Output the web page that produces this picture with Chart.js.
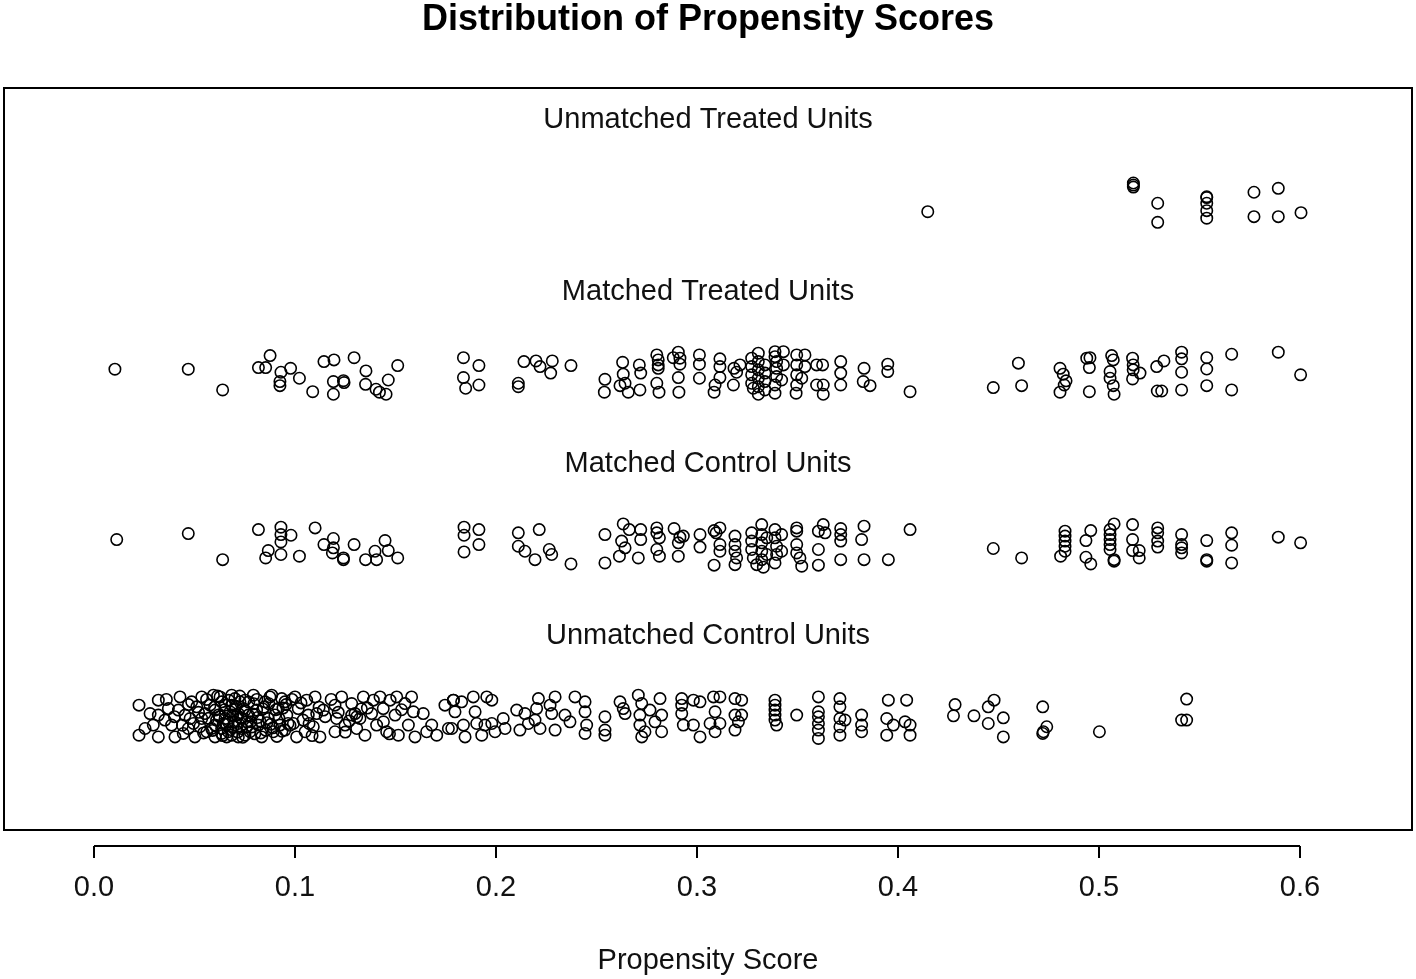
<!DOCTYPE html>
<html><head><meta charset="utf-8">
<script src="https://cdn.jsdelivr.net/npm/chart.js@4.4.0/dist/chart.umd.min.js"></script>
<style>html,body{margin:0;padding:0;background:#fff;} #wrap{width:1416px;height:979px;}</style>
</head><body><div id="wrap"><canvas id="c" width="1416" height="979"></canvas></div>
<script>
const chartTitle = "Distribution of Propensity Scores";
const xAxisTitle = "Propensity Score";
const groupLabels = ["Unmatched Treated Units", "Matched Treated Units", "Matched Control Units", "Unmatched Control Units"];
const groupLabelY = [2.5, 1.5, 0.5, -0.5];
const xTickValues = [0.0, 0.1, 0.2, 0.3, 0.4, 0.5, 0.6];

// Unmatched treated (around y = 2)
const utX = [0.4148,0.5171,0.5171,0.5171,0.5292,0.5292,0.5536,0.5536,0.5536,0.5536,0.5536,0.5771,0.5771,0.5892,0.5892,0.6005];
const utY = [1.940,2.107,2.095,2.083,1.989,1.878,2.027,2.022,1.989,1.946,1.902,2.053,1.911,2.076,1.911,1.934];

// Matched treated (around y = 1)
const mtX = [0.0104,0.0469,0.0640,0.0876,0.0818,0.0854,0.0930,0.0978,0.0925,0.0925,0.1022,0.1088,0.1144,0.1194,0.1294,0.1191,0.1241,0.1244,0.1191,0.1353,0.1351,0.1403,0.1420,0.1453,0.1464,0.1511,0.1838,0.1915,0.1838,0.1849,0.1915,
0.2111,0.2111,0.2139,0.2199,0.2219,0.2280,0.2272,0.2373,0.2542,0.2539,0.2630,0.2633,0.2617,0.2642,0.2658,0.2713,0.2720,0.2716,0.2800,0.2807,0.2807,0.2807,0.2800,0.2811,0.2882,0.2907,0.2915,0.2915,0.2907,0.2910,0.3012,0.3012,0.3012,0.3114,0.3114,0.3090,0.3085,0.3114,0.3184,0.3197,0.3181,0.3214,
0.3272,0.3272,0.3272,0.3272,0.3280,0.3305,0.3305,0.3305,0.3305,0.3305,0.3305,0.3338,0.3338,0.3338,0.3338,
0.3388,0.3388,0.3396,0.3396,0.3396,0.3388,0.3388,0.3430,0.3430,0.3421,
0.3496,0.3496,0.3496,0.3496,0.3493,0.3537,0.3537,0.3521,
0.3595,0.3625,0.3595,0.3628,0.3628,0.3715,0.3715,0.3715,0.3831,0.3827,0.3861,0.3949,0.3949,0.4060,
0.4474,0.4599,0.4615,0.4806,0.4822,0.4836,0.4827,0.4806,0.4939,0.4955,0.4952,0.4952,0.5063,0.5071,0.5055,0.5055,0.5071,0.5075,0.5167,0.5170,0.5170,0.5204,0.5167,0.5287,0.5323,0.5290,0.5312,0.5411,0.5411,0.5411,0.5411,0.5536,0.5536,0.5536,0.5660,0.5660,0.5892,0.6003];
const mtY = [1.023,1.023,0.902,1.102,1.032,1.032,1.005,1.028,0.951,0.927,0.970,0.892,1.067,1.077,1.090,0.951,0.956,0.945,0.877,1.013,0.935,0.906,0.889,0.877,0.960,1.044,1.090,1.044,0.974,0.912,0.931,
0.941,0.921,1.067,1.071,1.038,1.071,1.000,1.044,0.964,0.889,1.063,0.994,0.927,0.941,0.889,1.048,1.000,0.902,1.106,1.077,1.048,1.028,0.941,0.889,1.090,1.122,1.087,1.052,0.974,0.889,1.106,1.052,0.970,1.083,1.038,0.931,0.889,0.974,1.028,1.005,0.931,1.048,
1.087,1.038,0.990,0.941,0.912,1.116,1.067,1.019,0.970,0.921,0.877,1.048,1.000,0.951,0.902,
1.125,1.096,1.067,1.028,0.980,0.931,0.883,1.125,1.048,0.960,
1.106,1.048,0.990,0.931,0.883,1.106,1.038,0.970,
1.048,1.048,0.931,0.931,0.877,1.067,1.000,0.931,1.028,0.951,0.927,1.052,1.009,0.892,
0.916,1.058,0.927,1.028,0.994,0.955,0.931,0.889,1.087,1.090,1.032,0.892,1.102,1.077,1.009,0.970,0.927,0.877,1.087,1.048,1.019,1.000,0.966,1.038,1.071,0.896,0.896,1.122,1.083,1.005,0.902,1.090,1.024,0.927,1.110,0.902,1.122,0.990];

// Matched control (around y = 0)
const mcX = [0.0113,0.0469,0.0640,0.0818,0.0867,0.0854,0.0930,0.0930,0.0930,0.0980,0.0930,0.1022,0.1100,0.1144,0.1191,0.1191,0.1186,0.1241,0.1241,0.1294,0.1351,0.1398,0.1406,0.1448,0.1464,0.1511,0.1841,0.1841,0.1841,0.1915,0.1915,
0.2111,0.2111,0.2215,0.2144,0.2194,0.2265,0.2277,0.2373,0.2542,0.2542,0.2633,0.2663,0.2625,0.2642,0.2614,0.2720,0.2720,0.2708,0.2800,0.2800,0.2813,0.2800,0.2813,0.2886,0.2915,0.2932,0.2907,0.2907,0.3015,0.3015,0.3085,0.3114,0.3095,0.3114,0.3114,0.3085,0.3189,0.3189,0.3189,0.3197,0.3189,
0.3272,0.3272,0.3272,0.3280,0.3297,0.3322,0.3322,0.3322,0.3322,0.3322,0.3330,0.3347,0.3347,
0.3388,0.3388,0.3396,0.3396,0.3388,0.3421,0.3421,
0.3496,0.3496,0.3496,0.3496,0.3512,0.3521,
0.3604,0.3628,0.3637,0.3604,0.3604,0.3715,0.3715,0.3715,0.3715,0.3831,0.3819,0.3831,0.3952,0.4060,
0.4474,0.4615,0.4831,0.4831,0.4831,0.4831,0.4831,0.4809,0.4959,0.4935,0.4935,0.4959,0.5075,0.5055,0.5055,0.5055,0.5055,0.5055,0.5075,0.5075,0.5167,0.5167,0.5167,0.5200,0.5200,0.5292,0.5292,0.5292,0.5292,0.5411,0.5411,0.5411,0.5411,0.5536,0.5536,0.5536,0.5660,0.5660,0.5660,0.5892,0.6003];
const mcY = [0.031,0.066,-0.086,0.089,-0.033,-0.076,0.103,0.060,0.017,0.056,-0.056,-0.066,0.099,0.002,0.037,-0.017,-0.047,-0.076,-0.086,0.002,-0.086,-0.037,-0.086,0.025,-0.033,-0.076,0.103,0.056,-0.041,0.089,0.002,
0.070,-0.008,0.089,-0.037,-0.086,-0.027,-0.056,-0.111,0.060,-0.105,0.122,0.089,0.022,-0.017,-0.066,0.089,0.031,-0.076,0.099,0.070,0.041,-0.027,-0.066,0.095,0.045,0.051,0.012,-0.066,0.060,-0.013,0.083,0.099,0.070,0.002,-0.037,-0.118,0.051,0.002,-0.037,-0.076,-0.115,
0.070,0.022,-0.027,-0.076,-0.115,0.118,0.060,0.012,-0.037,-0.086,-0.130,0.041,-0.056,
0.089,0.041,-0.008,-0.056,-0.105,0.060,-0.037,
0.099,0.080,0.002,-0.047,-0.076,-0.124,
0.080,0.118,0.070,-0.027,-0.118,0.095,0.060,0.022,-0.086,0.109,0.031,-0.086,-0.086,0.089,
-0.021,-0.076,0.080,0.051,0.022,-0.008,-0.037,-0.066,0.083,0.025,-0.072,-0.111,0.122,0.089,0.060,0.031,0.002,-0.027,-0.086,-0.095,0.118,0.031,-0.033,-0.033,-0.076,0.099,0.070,0.022,-0.013,0.060,0.002,-0.017,-0.047,0.025,-0.086,-0.095,0.070,-0.002,-0.105,0.045,0.012];

// Unmatched control (around y = -1)
const ucX = [0.0224,0.0224,0.0320,0.0320,0.0295,0.0320,0.0370,0.0386,0.0403,0.0428,0.0453,0.0469,0.0486,0.0502,0.0536,0.0536,0.0561,0.0594,0.0602,0.0602,0.0602,0.0635,0.0652,0.0668,0.0685,0.0701,0.0718,0.0718,0.0751,0.0768,0.0776,0.0793,0.0809,0.0818,0.0834,0.0851,0.0867,0.0884,0.0892,0.0917,0.0925,0.0934,
0.0619,0.0635,0.0652,0.0668,0.0685,0.0701,0.0710,0.0735,0.0743,0.0760,0.0726,0.0677,0.0660,0.0627,0.0610,0.0577,0.0585,0.0552,0.0527,0.0511,0.0478,0.0444,0.0420,0.0353,0.0279,0.0254,
0.0643,0.0693,0.0718,0.0751,0.0635,0.0685,0.0735,
0.0470,0.0495,0.0520,0.0545,0.0560,0.0570,0.0590,0.0600,0.0615,0.0625,0.0640,0.0650,0.0660,0.0670,0.0680,0.0690,0.0700,0.0705,0.0715,0.0725,0.0730,0.0740,0.0750,0.0760,0.0770,0.0780,0.0790,0.0800,0.0810,0.0825,0.0840,0.0855,0.0870,0.0880,0.0900,0.0910,0.0940,0.0965,0.1030,0.1070,0.1150,0.1180,0.1250,0.1360,0.1440,0.1470,0.1530,0.0360,0.0400,0.0440,
0.0785,0.0795,0.0815,0.0830,0.0845,0.0860,0.0875,0.0890,0.0905,0.0920,0.0935,0.0955,0.0975,0.0985,0.1040,0.1085,0.1120,0.1215,0.1270,0.1330,
0.0950,0.0959,0.0950,0.1000,0.1016,0.0992,0.1008,0.1058,0.1066,0.1050,0.1100,0.1108,0.1091,0.1124,0.1141,0.1199,0.1232,0.1207,0.1199,0.1249,0.1282,0.1299,0.1307,0.1340,0.1348,0.1323,0.1282,0.1307,0.1390,0.1381,0.1406,0.1423,0.1439,0.1456,0.1473,0.1498,0.1514,0.1506,0.1547,0.1564,0.1580,0.1589,0.1597,0.1638,0.1655,0.1680,0.1705,0.1746,0.1763,0.1788,
0.1788,0.1796,0.1780,0.1829,0.1838,0.1846,0.1887,0.1896,0.1904,0.1929,0.1954,0.1979,0.1945,0.1979,0.1995,0.2036,0.2045,0.2103,0.2119,0.2144,0.2161,0.2194,0.2211,0.2202,0.2219,0.2269,0.2294,0.2277,0.2294,0.2343,0.2368,0.2393,0.2443,0.2443,0.2451,0.2443,0.2542,0.2542,0.2542,0.2617,0.2633,0.2642,0.2708,0.2725,0.2716,0.2716,0.2741,0.2725,0.2766,0.2791,0.2816,0.2824,0.2824,
0.2924,0.2924,0.2924,0.2982,0.3015,0.2932,0.2982,0.3015,0.3082,0.3114,0.3090,0.3065,0.3090,0.3114,0.3189,0.3222,0.3189,0.3206,0.3189,0.3222,0.3388,0.3388,0.3388,0.3388,0.3388,0.3396,0.3496,0.3604,0.3604,0.3604,0.3604,0.3604,0.3604,0.3711,0.3711,0.3711,0.3736,0.3711,0.3711,0.3819,0.3819,0.3819,0.3952,0.4043,0.3944,0.3977,0.3944,0.4035,0.4060,0.4060,
0.4284,0.4276,0.4378,0.4449,0.4478,0.4449,0.4524,0.4524,0.4720,0.4723,0.4740,0.4720,0.5002,0.5436,0.5411,0.5436];
const ucY = [-0.933,-1.108,-0.904,-0.991,-1.049,-1.118,-0.953,-1.049,-1.118,-0.885,-0.991,-1.069,-0.914,-1.118,-0.885,-1.011,-1.088,-0.875,-0.962,-1.049,-1.118,-0.914,-1.011,-1.088,-0.875,-0.953,-1.040,-1.118,-0.904,-0.991,-1.088,-0.875,-0.962,-1.049,-1.118,-0.914,-1.011,-0.875,-1.088,-0.953,-1.049,-0.895,
-0.991,-1.069,-0.933,-1.030,-1.108,-0.895,-0.991,-1.069,-0.953,-1.030,-0.914,-0.972,-1.118,-0.885,-1.020,-0.933,-1.069,-0.982,-1.059,-0.943,-1.011,-1.098,-0.962,-1.020,-0.982,-1.069,
-1.040,-1.059,-0.982,-1.108,-1.098,-0.933,-1.011,
-0.930,-1.040,-0.975,-1.095,-0.900,-1.010,-1.080,-0.945,-0.880,-1.000,-1.110,-0.960,-1.045,-0.905,-1.075,-0.990,-1.030,-0.940,-1.090,-0.880,-1.005,-1.120,-0.965,-1.060,-0.915,-1.030,-0.985,-1.100,-0.900,-1.025,-0.955,-1.080,-0.925,-1.045,-0.990,-1.115,-0.950,-1.040,-0.920,-1.040,-1.000,-0.900,-1.090,-0.950,-1.030,-1.100,-0.960,-0.900,-1.000,-1.050,
-1.060,-0.925,-1.005,-1.095,-0.945,-1.035,-0.885,-1.065,-0.960,-1.010,-1.085,-0.930,-1.050,-0.900,-1.020,-1.110,-0.945,-0.975,-1.025,-0.955,
-0.914,-0.991,-1.078,-0.885,-0.953,-1.040,-1.118,-0.904,-0.991,-1.088,-0.885,-0.982,-1.059,-1.118,-0.962,-0.933,-0.885,-1.011,-1.088,-1.049,-0.924,-0.982,-1.069,-0.885,-1.108,-1.011,-0.991,-1.001,-0.904,-0.982,-1.049,-0.885,-0.953,-1.088,-0.904,-0.991,-1.108,-0.885,-0.924,-1.049,-0.885,-0.972,-1.118,-0.982,-1.088,-1.049,-1.108,-0.933,-1.069,-0.904,
-0.904,-0.972,-1.069,-0.914,-1.049,-1.118,-0.885,-0.972,-1.040,-1.108,-0.885,-0.904,-1.049,-1.040,-1.088,-1.011,-1.069,-0.962,-1.078,-0.982,-1.040,-1.020,-0.895,-0.953,-1.069,-0.933,-0.885,-0.982,-1.078,-0.991,-1.030,-0.885,-0.914,-0.972,-1.049,-1.098,-1.001,-1.078,-1.108,-0.914,-0.953,-0.982,-0.875,-0.924,-0.991,-1.049,-1.088,-1.118,-0.962,-1.030,-0.895,-1.088,-0.991,
-0.895,-0.933,-0.982,-0.904,-0.914,-1.049,-1.049,-1.118,-0.885,-0.885,-0.972,-1.040,-1.088,-1.040,-0.895,-0.904,-0.991,-1.030,-1.078,-0.991,-0.904,-0.933,-0.962,-0.991,-1.020,-1.049,-0.991,-0.885,-0.972,-1.001,-1.040,-1.078,-1.127,-0.895,-0.943,-1.011,-1.020,-1.059,-1.108,-0.991,-1.049,-1.088,-0.904,-0.904,-1.011,-1.049,-1.108,-1.030,-1.049,-1.108,
-0.930,-0.995,-0.995,-0.943,-0.904,-1.040,-1.007,-1.118,-0.943,-1.088,-1.059,-1.098,-1.088,-0.898,-1.020,-1.020];

const FONT = '"Liberation Sans", Arial, sans-serif';
const pts = (xs, ys) => xs.map((x, i) => ({ x: x, y: ys[i] }));
const ds = (label, xs, ys) => ({
  label: label, data: pts(xs, ys),
  pointStyle: 'circle', pointRadius: 5.7, pointBorderWidth: 1.6,
  pointBorderColor: '#000', pointBackgroundColor: 'rgba(0,0,0,0)',
  showLine: false
});

const rPlot = {
  id: 'rPlot',
  afterDraw(chart) {
    const { ctx, chartArea: a, scales: { x, y } } = chart;
    const cx = (a.left + a.right) / 2;
    ctx.save();
    ctx.strokeStyle = '#000';
    ctx.lineWidth = 2;
    ctx.strokeRect(a.left, a.top, a.right - a.left, a.bottom - a.top);
    const ay = a.bottom + 16;
    ctx.beginPath();
    ctx.moveTo(x.getPixelForValue(xTickValues[0]), ay);
    ctx.lineTo(x.getPixelForValue(xTickValues[xTickValues.length - 1]), ay);
    xTickValues.forEach(v => { const px = x.getPixelForValue(v); ctx.moveTo(px, ay); ctx.lineTo(px, ay + 12); });
    ctx.stroke();
    ctx.fillStyle = '#000';
    ctx.textAlign = 'center';
    ctx.textBaseline = 'middle';
    ctx.font = 'bold 36px ' + FONT;
    ctx.fillText(chartTitle, cx, 20);
    ctx.font = '29px ' + FONT;
    ctx.fillStyle = '#111';
    groupLabels.forEach((t, i) => ctx.fillText(t, cx, y.getPixelForValue(groupLabelY[i]) + 5));
    ctx.fillText(xAxisTitle, cx, 961);
    ctx.restore();
  }
};

new Chart(document.getElementById('c'), {
  type: 'scatter',
  data: { datasets: [
    ds('Unmatched Treated Units', utX, utY),
    ds('Matched Treated Units', mtX, mtY),
    ds('Matched Control Units', mcX, mcY),
    ds('Unmatched Control Units', ucX, ucY)
  ] },
  options: {
    responsive: false, animation: false, devicePixelRatio: 1,
    layout: { autoPadding: false, padding: { top: 88, left: 4, right: 4, bottom: 0 } },
    plugins: { legend: { display: false }, tooltip: { enabled: false }, title: { display: false } },
    scales: {
      x: {
        type: 'linear', min: -0.04478, max: 0.65572,
        afterBuildTicks: s => { s.ticks = xTickValues.map(v => ({ value: v })); },
        afterFit: s => { s.height = 149; },
        grid: { display: false, drawTicks: false },
        border: { display: false },
        ticks: { padding: 41, color: '#111', font: { family: FONT, size: 29 }, autoSkip: false, maxRotation: 0,
                 callback: v => Number(v).toFixed(1) }
      },
      y: { type: 'linear', min: -1.66, max: 2.66, display: false }
    }
  },
  plugins: [rPlot]
});
</script>
</body></html>
